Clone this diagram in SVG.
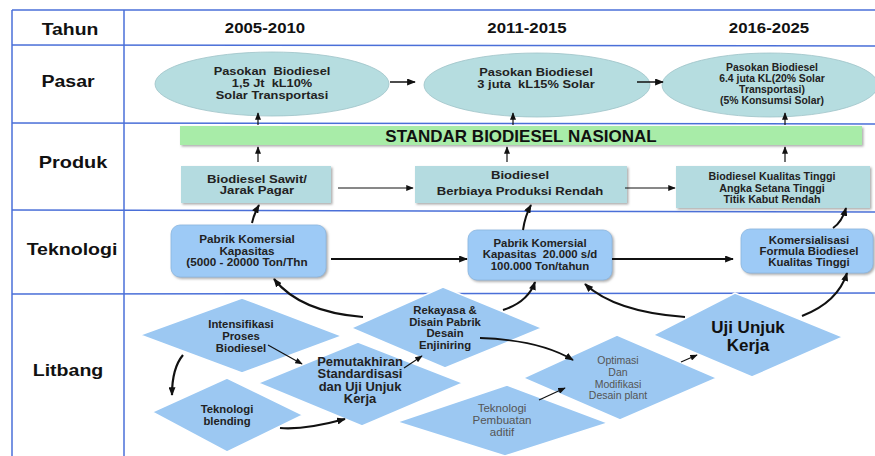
<svg xmlns="http://www.w3.org/2000/svg" width="875" height="456" viewBox="0 0 875 456">
<defs>
<marker id="ah" viewBox="0 0 10 8" refX="9" refY="4" markerWidth="9" markerHeight="7" markerUnits="userSpaceOnUse" orient="auto"><path d="M0,0 L10,4 L0,8 z" fill="#111"/></marker>
<marker id="ahs" viewBox="0 0 10 8" refX="9" refY="4" markerWidth="8" markerHeight="6" markerUnits="userSpaceOnUse" orient="auto"><path d="M0,0 L10,4 L0,8 z" fill="#111"/></marker>
<filter id="sh" x="-5%" y="-5%" width="115%" height="130%"><feDropShadow dx="1.5" dy="1.5" stdDeviation="0.8" flood-color="#888" flood-opacity="0.7"/></filter>
</defs>
<style>
.grid{stroke:#4a6fd8;stroke-width:1.5;fill:none}
.hd{font-family:"Liberation Sans",Arial,sans-serif;font-weight:bold;font-size:17px;fill:#111;text-anchor:middle}
.yr{font-family:"Liberation Sans",Arial,sans-serif;font-weight:bold;font-size:14px;fill:#111;text-anchor:middle}
.t{font-family:"Liberation Sans",Arial,sans-serif;font-weight:bold;font-size:10.5px;fill:#222;text-anchor:middle}
.tn{font-family:"Liberation Sans",Arial,sans-serif;font-size:10.5px;fill:#555;text-anchor:middle}
.pre{white-space:pre}
.ell{fill:#b6dde0;stroke:#9ec3c8;stroke-width:0.8}
.pbox{fill:#b4dbe0;filter:url(#sh)}
.tbox{fill:#9dcaf6;stroke:#8ab6e0;stroke-width:0.8;filter:url(#sh)}
.dia{fill:#9cc8f2;stroke:#ffffff;stroke-width:1.5}
.c{fill:none;stroke:#111}
</style>
<rect width="875" height="456" fill="#ffffff"/>
<g id="grid">
<line class="grid" x1="12" y1="10" x2="12" y2="456"/>
<line class="grid" x1="124" y1="10" x2="124" y2="456"/>
<line class="grid" x1="12" y1="10" x2="875" y2="10"/>
<line class="grid" x1="12" y1="45" x2="875" y2="46"/>
<line class="grid" x1="12" y1="123" x2="875" y2="124"/>
<line class="grid" x1="12" y1="210" x2="875" y2="212"/>
<line class="grid" x1="12" y1="294" x2="875" y2="293"/>
</g>
<g id="headers">
<g transform="translate(70,0) scale(1.14,1)"><text class="hd" x="0" y="35">Tahun</text></g>
<g transform="translate(265,0) scale(1.2,1)"><text class="yr" x="0" y="33">2005-2010</text></g>
<g transform="translate(527,0) scale(1.2,1)"><text class="yr" x="0" y="33">2011-2015</text></g>
<g transform="translate(769,0) scale(1.2,1)"><text class="yr" x="0" y="33">2016-2025</text></g>
<g transform="translate(68,0) scale(1.15,1)"><text class="hd" x="0" y="87">Pasar</text></g>
<g transform="translate(73,0) scale(1.17,1)"><text class="hd" x="0" y="168">Produk</text></g>
<g transform="translate(72,0) scale(1.15,1)"><text class="hd" x="0" y="255">Teknologi</text></g>
<g transform="translate(68,0) scale(1.15,1)"><text class="hd" x="0" y="376">Litbang</text></g>
</g>
<g id="pasar1"><ellipse class="ell" cx="272" cy="84" rx="117" ry="32"/>
<g transform="translate(272,0) scale(1.22,1)"><text class="t pre" x="0" y="75">Pasokan  Biodiesel</text><text class="t pre" x="0" y="87">1,5 Jt  kL10%</text><text class="t" x="0" y="99">Solar Transportasi</text></g></g>
<g id="pasar2"><ellipse class="ell" cx="537" cy="85" rx="113" ry="32"/>
<g transform="translate(536,0) scale(1.17,1)"><text class="t" x="0" y="76" style="font-size:11px">Pasokan Biodiesel</text><text class="t pre" x="0" y="88" style="font-size:11px">3 juta  kL15% Solar</text></g></g>
<g id="pasar3"><ellipse class="ell" cx="770" cy="85" rx="108" ry="32"/>
<g transform="translate(772,0) scale(1.04,1)"><text class="t" x="0" y="71" style="font-size:10px">Pasokan Biodiesel</text><text class="t" x="0" y="82" style="font-size:10px">6.4 juta KL(20% Solar</text><text class="t" x="0" y="93" style="font-size:10px">Transportasi)</text><text class="t" x="0" y="104" style="font-size:10px">(5% Konsumsi Solar)</text></g></g>
<g id="standar"><rect x="180" y="126" width="682" height="19" fill="#a8eca8" filter="url(#sh)"/>
<text x="521" y="142" style="font-family:'Liberation Sans',Arial,sans-serif;font-weight:bold;font-size:17px;fill:#111;text-anchor:middle">STANDAR BIODIESEL NASIONAL</text></g>
<g id="produk1"><rect class="pbox" x="181" y="166" width="150" height="37"/>
<g transform="translate(257,0) scale(1.25,1)"><text class="t" x="0" y="183">Biodiesel Sawit/</text><text class="t" x="0" y="194">Jarak Pagar</text></g></g>
<g id="produk2"><rect class="pbox" x="415" y="166" width="212" height="37"/>
<g transform="translate(520,0) scale(1.19,1)"><text class="t" x="0" y="179" style="font-size:11px">Biodiesel</text><text class="t" x="0" y="195" style="font-size:11px">Berbiaya Produksi Rendah</text></g></g>
<g id="produk3"><rect class="pbox" x="676" y="166" width="194" height="42"/>
<g transform="translate(772,0) scale(1.07,1)"><text class="t" x="0" y="180" style="font-size:10px">Biodiesel Kualitas Tinggi</text><text class="t" x="0" y="192" style="font-size:10px">Angka Setana Tinggi</text><text class="t" x="0" y="203" style="font-size:10px">Titik Kabut Rendah</text></g></g>
<g id="tek1"><rect class="tbox" x="171" y="225" width="155" height="52" rx="9"/>
<g transform="translate(247,0) scale(1.17,1)"><text class="t" x="0" y="243" style="font-size:10px">Pabrik Komersial</text><text class="t" x="0" y="255" style="font-size:10px">Kapasitas</text><text class="t" x="0" y="266" style="font-size:10px">(5000 - 20000 Ton/Thn</text></g></g>
<g id="tek2"><rect class="tbox" x="468" y="230" width="144" height="50" rx="9"/>
<g transform="translate(540,0) scale(1.14,1)"><text class="t" x="0" y="247" style="font-size:10px">Pabrik Komersial</text><text class="t pre" x="0" y="258" style="font-size:10px">Kapasitas  20.000 s/d</text><text class="t" x="0" y="270" style="font-size:10px">100.000 Ton/tahun</text></g></g>
<g id="tek3"><rect class="tbox" x="741" y="229" width="132" height="44" rx="9"/>
<g transform="translate(809,0) scale(1.14,1)"><text class="t" x="0" y="244" style="font-size:10px">Komersialisasi</text><text class="t" x="0" y="255" style="font-size:10px">Formula Biodiesel</text><text class="t" x="0" y="266" style="font-size:10px">Kualitas Tinggi</text></g></g>
<g id="d2"><polygon class="dia" points="152,412 227,378 303,415 227,452"/>
<g transform="translate(227,0) scale(1.08,1)"><text class="t" x="0" y="413">Teknologi</text><text class="t" x="0" y="425">blending</text></g></g>
<g id="d1"><polygon class="dia" points="140,335 242,298 342,336 242,373"/>
<g transform="translate(241,0) scale(1.08,1)"><text class="t" x="0" y="328">Intensifikasi</text><text class="t" x="0" y="340">Proses</text><text class="t" x="0" y="352">Biodiesel</text></g></g>
<g id="d4"><polygon class="dia" points="351,328 443,287 542,328 445,368"/>
<g transform="translate(445,0) scale(1.03,1)"><text class="t" x="0" y="314" style="font-size:11px">Rekayasa &amp;</text><text class="t" x="0" y="326" style="font-size:11px">Disain Pabrik</text><text class="t" x="0" y="337" style="font-size:11px">Desain</text><text class="t" x="0" y="349" style="font-size:11px">Enjiniring</text></g></g>
<g id="d3"><polygon class="dia" points="258,383 358,342 463,383 362,426"/>
<g transform="translate(360,0) scale(1.08,1)"><text class="t" x="0" y="366" style="font-size:12px">Pemutakhiran</text><text class="t" x="0" y="378.5" style="font-size:12px">Standardisasi</text><text class="t" x="0" y="391" style="font-size:12px">dan Uji Unjuk</text><text class="t" x="0" y="403.5" style="font-size:12px">Kerja</text></g></g>
<g id="d5"><polygon class="dia" points="397,422 507,385 608,423 505,456"/>
<g transform="translate(502,0) scale(1.1,1)"><text class="tn" x="0" y="412">Teknologi</text><text class="tn" x="0" y="424">Pembuatan</text><text class="tn" x="0" y="436">aditif</text></g></g>
<g id="d6"><polygon class="dia" points="523,378 617,335 717,378 620,420"/>
<text class="tn" x="618" y="364">Optimasi</text><text class="tn" x="618" y="376">Dan</text><text class="tn" x="618" y="388">Modifikasi</text><text class="tn" x="618" y="399">Desain plant</text></g>
<g id="d7"><polygon class="dia" points="653,335 735,293 843,337 752,377"/>
<text class="t" x="748" y="333" style="font-size:17px;fill:#111">Uji Unjuk</text><text class="t" x="748" y="351" style="font-size:17px;fill:#111">Kerja</text></g>
<g id="connectors">
<line class="c" stroke-width="1.5" x1="390" y1="82" x2="415" y2="82" marker-end="url(#ah)"/>
<line class="c" stroke-width="1.5" x1="637" y1="82" x2="663" y2="82" marker-end="url(#ah)"/>
<line class="c" stroke-width="1.2" x1="258" y1="125" x2="258" y2="113" marker-end="url(#ahs)"/>
<line class="c" stroke-width="1.2" x1="258" y1="162" x2="258" y2="147" marker-end="url(#ahs)"/>
<line class="c" stroke-width="1.2" x1="513" y1="125" x2="513" y2="113" marker-end="url(#ahs)"/>
<line class="c" stroke-width="1.2" x1="507" y1="162" x2="507" y2="147" marker-end="url(#ahs)"/>
<line class="c" stroke-width="1.2" x1="785" y1="125" x2="785" y2="113" marker-end="url(#ahs)"/>
<line class="c" stroke-width="1.2" x1="785" y1="162" x2="785" y2="147" marker-end="url(#ahs)"/>
<line class="c" stroke-width="1" x1="338" y1="188" x2="413" y2="188" marker-end="url(#ahs)"/>
<line class="c" stroke-width="1" x1="625" y1="188" x2="675" y2="188" marker-end="url(#ahs)"/>
<line class="c" stroke-width="2" x1="331" y1="259" x2="467" y2="259" marker-end="url(#ah)"/>
<line class="c" stroke-width="2" x1="612" y1="259" x2="733" y2="259" marker-end="url(#ah)"/>
<path class="c" stroke-width="2" d="M252,223 Q254,214 259,205" marker-end="url(#ah)"/>
<path class="c" stroke-width="2" d="M523,230 Q525,216 531,205" marker-end="url(#ah)"/>
<path class="c" stroke-width="2" d="M833,228 Q842,222 846,208" marker-end="url(#ah)"/>
<path class="c" stroke-width="2.2" d="M363,317 Q300,312 274,279" marker-end="url(#ah)"/>
<path class="c" stroke-width="2.2" d="M503,310 Q528,302 535,282" marker-end="url(#ah)"/>
<path class="c" stroke-width="2.2" d="M685,317 Q615,312 585,284" marker-end="url(#ah)"/>
<path class="c" stroke-width="2.2" d="M802,316 Q838,302 847,273" marker-end="url(#ah)"/>
<path class="c" stroke-width="1.8" d="M480,338 Q540,340 573,360" marker-end="url(#ah)"/>
<line class="c" stroke-width="1.2" x1="268" y1="345" x2="302" y2="364" marker-end="url(#ahs)"/>
<path class="c" stroke-width="2.2" d="M183,355 Q172,368 172,395" marker-end="url(#ah)"/>
<path class="c" stroke-width="2.2" d="M280,428 Q305,430 345,419" marker-end="url(#ah)"/>
<line class="c" stroke-width="1.2" x1="404" y1="368" x2="422" y2="356" marker-end="url(#ahs)"/>
<line class="c" stroke-width="1.2" x1="539" y1="400" x2="565" y2="388" marker-end="url(#ahs)"/>
<line class="c" stroke-width="1.2" x1="681" y1="362" x2="697" y2="355" marker-end="url(#ahs)"/>
</g>
</svg>
